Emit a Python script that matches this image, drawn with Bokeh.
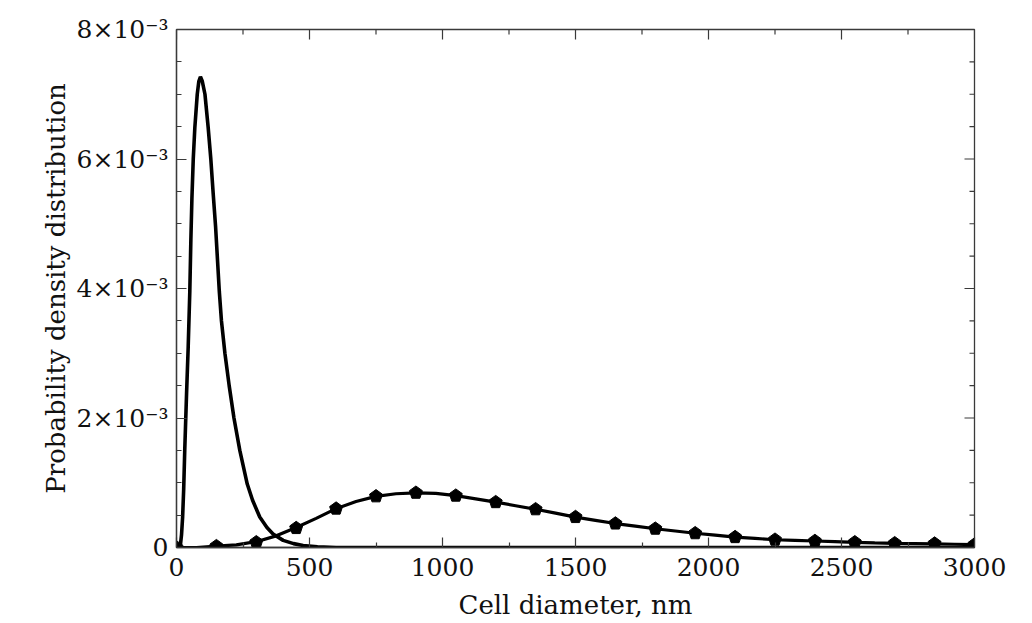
import math
from bokeh.plotting import figure
from bokeh.models import Range1d, FixedTicker
from bokeh.embed import file_html
from bokeh.resources import INLINE

# Narrow distribution (values in units of 1e-3)
small_x = [0, 10, 15, 19, 23, 27, 31, 38, 44, 50, 54, 58, 63, 69, 78, 84, 90, 97,
           107, 119, 129, 138, 147, 154, 161, 169, 182, 198, 216, 238, 266, 286,
           313, 340, 363, 401, 440, 476, 530, 600, 900, 3000]
small_y = [0, 0.0, 0.05, 0.2, 0.47, 0.9, 1.5, 2.4, 3.1, 3.95, 4.75, 5.4, 6.0, 6.49,
           7.0, 7.2, 7.27, 7.2, 7.0, 6.49, 6.0, 5.46, 4.95, 4.45, 3.95, 3.5, 3.0,
           2.5, 2.0, 1.5, 0.98, 0.73, 0.47, 0.31, 0.21, 0.11, 0.06, 0.03, 0.01,
           0.0, 0.0, 0.0]

# Broad distribution, curve (units of 1e-3)
large_x = [0, 75, 150, 225, 300, 375, 450, 525, 600, 675, 750, 825, 900, 975, 1050,
           1125, 1200, 1275, 1350, 1425, 1500, 1575, 1650, 1725, 1800, 1875, 1950,
           2025, 2100, 2175, 2250, 2325, 2400, 2475, 2550, 2625, 2700, 2775, 2850,
           2925, 3000]
large_y = [0, 0.0, 0.02, 0.04, 0.09, 0.18, 0.31, 0.45, 0.60, 0.71, 0.79, 0.83, 0.845,
           0.835, 0.80, 0.75, 0.70, 0.645, 0.59, 0.53, 0.47, 0.42, 0.37, 0.33, 0.29,
           0.255, 0.22, 0.19, 0.16, 0.14, 0.12, 0.11, 0.10, 0.09, 0.08, 0.072, 0.065,
           0.06, 0.055, 0.05, 0.045]

# Broad distribution, sample markers (units of 1e-3)
mark_x = [0, 150, 300, 450, 600, 750, 900, 1050, 1200, 1350, 1500, 1650, 1800, 1950,
          2100, 2250, 2400, 2550, 2700, 2850, 3000]
mark_y = [0, 0.02, 0.08, 0.30, 0.60, 0.79, 0.845, 0.80, 0.70, 0.59, 0.47, 0.37, 0.29,
          0.22, 0.16, 0.12, 0.10, 0.08, 0.065, 0.06, 0.045]

x_ticks = [0, 500, 1000, 1500, 2000, 2500, 3000]
x_minor = [250, 750, 1250, 1750, 2250, 2750]
y_ticks = [0, 2, 4, 6, 8]
y_minor = [0.5, 1, 1.5, 2.5, 3, 3.5, 4.5, 5, 5.5, 6.5, 7, 7.5]
y_tick_labels = ["0", "2×10⁻³", "4×10⁻³", "6×10⁻³", "8×10⁻³"]

FONT = "DejaVu Serif"
AX = "#3a3a3a"
MAJ = 10
MIN = 5

p = figure(frame_width=798, frame_height=518,
           min_border_left=176, min_border_top=29, min_border_right=40,
           min_border_bottom=10,
           x_range=Range1d(x_ticks[0], x_ticks[-1]),
           y_range=Range1d(y_ticks[0], y_ticks[-1]),
           output_backend="svg", toolbar_location=None,
           background_fill_color="white", border_fill_color="white")
p.xgrid.visible = False
p.ygrid.visible = False
p.outline_line_color = AX
p.outline_line_width = 1.3


def style(ax, ticks, minor):
    ax.ticker = FixedTicker(ticks=ticks, minor_ticks=minor)
    ax.axis_line_color = AX
    ax.axis_line_width = 1.3
    ax.major_tick_line_color = AX
    ax.minor_tick_line_color = AX
    ax.major_tick_line_width = 1.2
    ax.minor_tick_line_width = 1.2
    ax.major_tick_in = MAJ
    ax.major_tick_out = 0
    ax.minor_tick_in = MIN
    ax.minor_tick_out = 0
    ax.major_label_text_font = FONT
    ax.major_label_text_font_size = "25px"
    ax.major_label_text_color = "#111111"
    ax.axis_label_text_font = FONT
    ax.axis_label_text_font_size = "26px"
    ax.axis_label_text_font_style = "normal"
    ax.axis_label_text_color = "#111111"


xa = p.xaxis[0]
ya = p.yaxis[0]
style(xa, x_ticks, x_minor)
style(ya, y_ticks, y_minor)
xa.axis_label = "Cell diameter, nm"
ya.axis_label = "Probability density distribution"
xa.major_label_standoff = 10
xa.axis_label_standoff = 11
ya.major_label_standoff = 8
ya.axis_label_standoff = 3
xa.major_label_overrides = {t: str(t) for t in x_ticks}
ya.major_label_overrides = dict(zip(y_ticks, y_tick_labels))

# Inward ticks on the top and right edges of the frame
y_top = y_ticks[-1]
x_right = x_ticks[-1]
tick_style = dict(line_color=AX, line_width=1.2, length_units="screen")
p.ray(x=x_ticks, y=[y_top] * len(x_ticks), length=MAJ, angle=-math.pi / 2, **tick_style)
p.ray(x=x_minor, y=[y_top] * len(x_minor), length=MIN, angle=-math.pi / 2, **tick_style)
p.ray(x=[x_right] * len(y_ticks), y=y_ticks, length=MAJ, angle=math.pi, **tick_style)
p.ray(x=[x_right] * len(y_minor), y=y_minor, length=MIN, angle=math.pi, **tick_style)

p.line(small_x, small_y, line_color="black", line_width=3.6)
p.line(large_x, large_y, line_color="black", line_width=3.2)

drawn = False
if hasattr(p, "ngon"):
    try:
        p.ngon(x=mark_x, y=mark_y, radius=6.8, radius_units="screen", n=5,
               angle=0, fill_color="black", line_color="black")
        drawn = True
    except Exception:
        drawn = False
if not drawn:
    p.scatter(mark_x, mark_y, marker="hex", size=12, fill_color="black",
              line_color="black")

open("out.html", "w").write(file_html(p, INLINE))
